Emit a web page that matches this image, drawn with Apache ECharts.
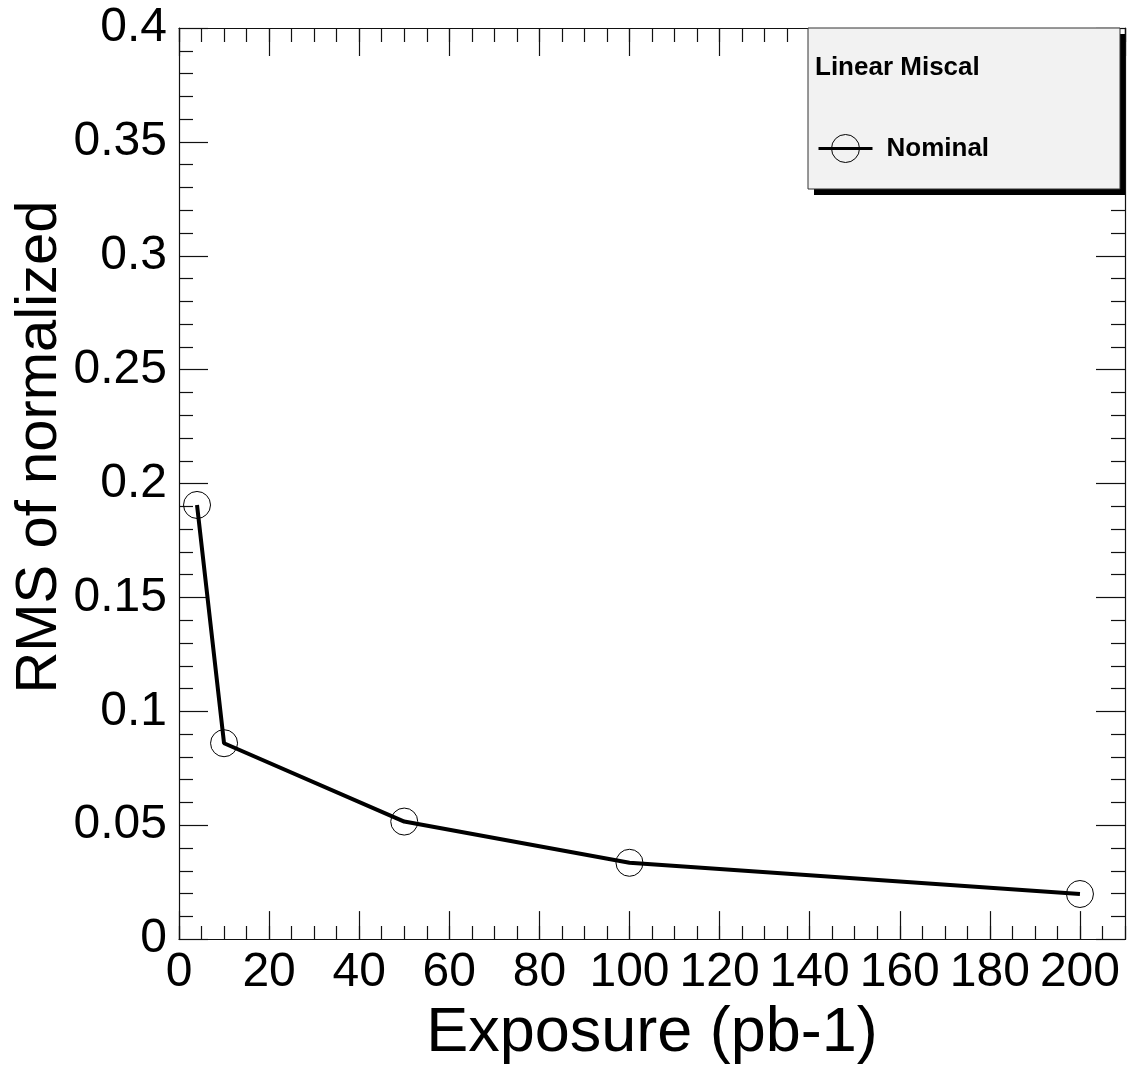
<!DOCTYPE html>
<html>
<head>
<meta charset="utf-8">
<script src="https://cdn.jsdelivr.net/npm/echarts@6/dist/echarts.min.js"></script>
<style>
html,body{margin:0;padding:0;background:#fff;}
#chart{width:1135px;height:1070px;}
</style>
</head>
<body>
<div id="chart"></div>
<script>
// ---- data ----
var exposure = [4, 10, 50, 100, 200];
var rmsNominal = [0.1906, 0.0860, 0.0516, 0.0335, 0.0198];
var seriesName = 'Nominal';
var legendTitle = 'Linear Miscal';
var xTitle = 'Exposure (pb-1)';
var yTitle = 'RMS of normalized';
var xRange = [0, 210];
var yRange = [0, 0.4];

var FONT = "'Liberation Sans', Arial, Helvetica, sans-serif";
var AX = '#111';

var chart = echarts.init(document.getElementById('chart'));
var gridPos = {left: 179, right: 10, top: 28, bottom: 130, containLabel: false};

function xAxisMajor(pos, labels, idx) {
  return {
    type: 'value', gridIndex: idx, position: pos,
    min: xRange[0], max: xRange[1], interval: 20,
    axisLine: {show: true, onZero: false, lineStyle: {color: AX, width: 1.2}},
    axisTick: {show: true, inside: true, length: 28, lineStyle: {color: AX, width: 1.2}},
    axisLabel: {show: labels, fontSize: 48, fontFamily: FONT, color: '#000', margin: 10,
      showMaxLabel: false,
      formatter: function (v) { return v <= 200 ? String(v) : ''; }},
    splitLine: {show: false}
  };
}
function xAxisMinor(pos, idx) {
  return {
    type: 'value', gridIndex: idx, position: pos,
    min: xRange[0], max: xRange[1], interval: 5,
    axisLine: {show: false, onZero: false},
    axisTick: {show: true, inside: true, length: 14, lineStyle: {color: AX, width: 1.2}},
    axisLabel: {show: false},
    splitLine: {show: false}
  };
}
function yAxisDef(pos, labels) {
  return {
    type: 'value', gridIndex: 0, position: pos,
    min: yRange[0], max: yRange[1], interval: 0.05,
    axisLine: {show: true, onZero: false, lineStyle: {color: AX, width: 1.2}},
    axisTick: {show: true, inside: true, length: 29, lineStyle: {color: AX, width: 1.2}},
    minorTick: {show: true, splitNumber: 5, length: 14, lineStyle: {color: AX, width: 1.2}},
    axisLabel: {show: labels, fontSize: 48, fontFamily: FONT, color: '#000', margin: 12},
    splitLine: {show: false}, minorSplitLine: {show: false}
  };
}

var option = {
  backgroundColor: '#fff',
  animation: false,
  grid: [gridPos, gridPos],
  xAxis: [
    Object.assign(xAxisMajor('bottom', true, 0), {
      name: xTitle, nameLocation: 'middle', nameGap: 47,
      nameTextStyle: {fontSize: 63, fontFamily: FONT, color: '#000'}
    }),
    xAxisMajor('top', false, 0),
    xAxisMinor('bottom', 1),
    xAxisMinor('top', 1)
  ],
  yAxis: [
    yAxisDef('left', true),
    yAxisDef('right', false),
    {type: 'value', gridIndex: 1, show: false, min: yRange[0], max: yRange[1]}
  ],
  legend: {
    show: true, left: 812, top: 129, z: 200,
    orient: 'vertical',
    data: [seriesName],
    itemWidth: 54, itemHeight: 35,
    lineStyle: {width: 3, color: '#000'},
    itemStyle: {color: 'rgba(0,0,0,0)', borderColor: '#000', borderWidth: 1},
    textStyle: {fontSize: 26, fontWeight: 'bold', fontFamily: FONT, color: '#000', padding: [0, 0, 0, 9]},
    selectedMode: false
  },
  graphic: [
    {type: 'rect', z: 100, shape: {x: 814, y: 34, width: 311, height: 161}, style: {fill: '#000'}},
    {type: 'rect', z: 101, shape: {x: 808, y: 28, width: 312, height: 161},
     style: {fill: '#f2f2f2', stroke: '#333', lineWidth: 1}},
    {type: 'text', z: 102, x: 815, y: 68,
     style: {text: legendTitle, fontSize: 26, fontWeight: 'bold', fontFamily: FONT, fill: '#000',
             align: 'left', verticalAlign: 'middle'}},
    {type: 'text', z: 102, x: 40, y: 447, rotation: Math.PI / 2,
     style: {text: yTitle, fontSize: 58, fontFamily: FONT, fill: '#000',
             align: 'center', verticalAlign: 'middle'}}
  ],
  series: [{
    name: seriesName,
    type: 'line',
    xAxisIndex: 0, yAxisIndex: 0,
    data: exposure.map(function (x, i) { return [x, rmsNominal[i]]; }),
    symbol: 'circle', symbolSize: 27,
    showAllSymbol: true,
    lineStyle: {color: '#000', width: 4},
    itemStyle: {color: 'rgba(0,0,0,0)', borderColor: '#000', borderWidth: 1},
    emphasis: {disabled: true}
  }]
};
chart.setOption(option);
</script>
</body>
</html>
